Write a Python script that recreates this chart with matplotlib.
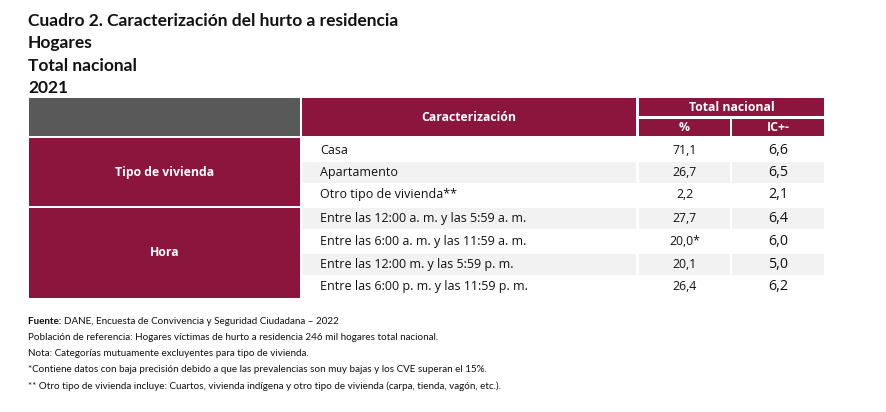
import matplotlib.pyplot as plt
from matplotlib.patches import Rectangle

MAROON = "#8B153D"
GRAY = "#595959"
SHADE = "#F2F2F2"

title_lines = ["Cuadro 2. Caracterización del hurto a residencia",
               "Hogares", "Total nacional", "2021"]
groups = ["Tipo de vivienda", "Hora"]
group_sizes = [3, 4]
categories = ["Casa", "Apartamento", "Otro tipo de vivienda**",
              "Entre las 12:00 a. m. y las 5:59 a. m.",
              "Entre las 6:00 a. m. y las 11:59 a. m.",
              "Entre las 12:00 m. y las 5:59 p. m.",
              "Entre las 6:00 p. m. y las 11:59 p. m."]
pct = ["71,1", "26,7", "2,2", "27,7", "20,0*", "20,1", "26,4"]
ic = ["6,6", "6,5", "2,1", "6,4", "6,0", "5,0", "6,2"]
source = "DANE, Encuesta de Convivencia y Seguridad Ciudadana – 2022"
notes = [
    "Población de referencia: Hogares víctimas de hurto a residencia 246 mil hogares total nacional.",
    "Nota: Categorías mutuamente excluyentes para tipo de vivienda.",
    "*Contiene datos con baja precisión debido a que las prevalencias son muy bajas y los CVE superan el 15%.",
    "** Otro tipo de vivienda incluye: Cuartos, vivienda indígena y otro tipo de vivienda (carpa, tienda, vagón, etc.).",
]

plt.rcParams["font.family"] = ["Open Sans", "DejaVu Sans"]
INK = "#111111"
LATO = ["Lato", "DejaVu Sans"]

fig = plt.figure(figsize=(8.87, 4.12), dpi=100)
ax = fig.add_axes([0, 0, 1, 1])
ax.set_xlim(0, 887)
ax.set_ylim(412, 0)
ax.axis("off")


def box(x0, y0, x1, y1, color):
    ax.add_patch(Rectangle((x0, y0), x1 - x0, y1 - y0, color=color, lw=0))


# title block
for i, line in enumerate(title_lines):
    ax.text(28, 20.5 + 22.5 * i, line, fontsize=12.5, fontweight="bold",
            va="center", ha="left", family=LATO, color=INK)

# header
box(29, 98, 300, 136, GRAY)
box(302, 98, 636, 136, MAROON)
box(639, 98, 824, 116, MAROON)
box(639, 119, 730, 136, MAROON)
box(732, 119, 824, 136, MAROON)
hdr = dict(color="white", fontsize=8.8, fontweight="bold", ha="center", va="center")
ax.text(469, 117, "Caracterización", **hdr)
ax.text(731.5, 107, "Total nacional", **hdr)
ax.text(684.5, 127.5, "%", **hdr)
ax.text(778, 127.5, "IC+-", **hdr)

# body rows
row_tops = [138, 162, 183, 208, 229, 254, 275]
row_bots = [162, 183, 206, 229, 254, 275, 298]
for i, (cat, p, c) in enumerate(zip(categories, pct, ic)):
    y0, y1 = row_tops[i], row_bots[i]
    if i % 2 == 1:
        box(302, y0, 636, y1, SHADE)
        box(639, y0, 730, y1, SHADE)
        box(732, y0, 824, y1, SHADE)
    yc = (y0 + y1) / 2
    ax.text(320, yc, cat, fontsize=9, ha="left", va="center", color=INK)
    ax.text(684.5, yc, p, fontsize=8.8, ha="center", va="center", color=INK)
    ax.text(778, yc, c, fontsize=10.3, ha="center", va="center", color=INK)

# group cells
group_spans = [(138, 206), (208, 298)]
for g, (y0, y1) in zip(groups, group_spans):
    box(29, y0, 300, y1, MAROON)
    ax.text(164.5, (y0 + y1) / 2, g, **hdr)

# footnotes
note_y = [322, 338, 354, 370, 386]
ft = dict(fontsize=7.1, ha="left", va="center", family=LATO, color=INK)
lbl = ax.text(28, note_y[0], "Fuente: ", fontweight="bold", **ft)
fig.canvas.draw()
bb = lbl.get_window_extent().transformed(ax.transData.inverted())
ax.text(max(bb.x0, bb.x1), note_y[0], source, **ft)
for y, n in zip(note_y[1:], notes):
    ax.text(28, y, n, **ft)

fig.savefig("out.png", dpi=100)
